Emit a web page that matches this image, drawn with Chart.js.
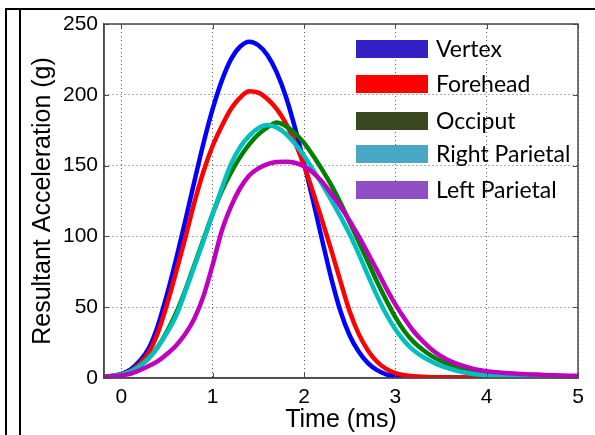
<!DOCTYPE html>
<html>
<head>
<meta charset="utf-8">
<script src="https://cdn.jsdelivr.net/npm/chart.js@4.4.0/dist/chart.umd.min.js"></script>
<style>
  html, body { margin: 0; padding: 0; background: #fff; }
  #wrap { position: relative; width: 595px; height: 435px; overflow: hidden; background: #fff; }
  #c { position: absolute; left: 0; top: 0; }
  .rule { position: absolute; background: #000; }
  .leg-row { position: absolute; left: 356px; height: 18px; }
  .leg-sw { position: absolute; left: 0; top: 0; width: 72px; height: 18px; box-sizing: border-box; }
  .leg-tx { position: absolute; left: 80px; top: -7px; font-family: Lato, "Open Sans", sans-serif; font-size: 23px; line-height: 30px; color: #000; white-space: nowrap; }
</style>
</head>
<body>
<div id="wrap">
  <canvas id="c" width="595" height="435"></canvas>
  <div class="rule" style="left:5px; top:8px; width:590px; height:2px;"></div>
  <div class="rule" style="left:5px; top:8px; width:2px; height:427px;"></div>
  <div class="rule" style="left:19px; top:8px; width:2px; height:427px;"></div>
  <div id="legend"></div>
</div>
<script>
// ---- data ----
const timeMs = [-0.2,-0.1,0.0,0.1,0.2,0.3,0.4,0.5,0.6,0.7,0.8,0.9,1.0,1.1,1.2,1.3,1.4,1.5,1.6,1.7,1.8,1.9,
  2.0,2.1,2.2,2.3,2.4,2.5,2.6,2.7,2.8,2.9,3.0,3.1,3.2,3.3,3.4,3.5,3.6,3.7,3.8,3.9,
  4.0,4.1,4.2,4.3,4.4,4.5,4.6,4.7,4.8,4.9,5.0];

const vertex = [1,1.5,3,6,12,21,37,59,84,111,139,166,190,210,225,234,237.5,235,228,216,199,177,
  152,125,97,70,47,30,18.5,10.5,5.5,2.5,1,0.5,0.3,0.3,0.3,0.3,0.3,0.3,0.3,0.3,
  0.3,0.3,0.3,0.3,0.3,0.3,0.3,0.3,0.3,0.3,0.3];

const forehead = [1,1.5,2.5,5,10,18,32,52,75,99,124,146,164,178,190,198,202.5,201.5,197,190,180,166.5,
  150,131,111,90,68,47,31,19.5,11.5,6.5,3.5,2,1.2,0.8,0.6,0.5,0.4,0.3,0.3,0.3,
  0.3,0.3,0.3,0.3,0.3,0.3,0.3,0.3,0.3,0.3,0.3];

const occiput = [1,1.5,2.5,4.5,8.5,14,22,33,46,62,80,98,116,132,145,156,165,172,177,180.5,178,173,
  166,157,147,136,123.5,110,96,82,68,55,43,33,25.5,20,15.5,12,9.3,7,5.2,3.8,
  2.8,2.1,1.6,1.2,1,0.8,0.7,0.6,0.5,0.5,0.4];

const rightParietal = [1,1.5,2.5,4.5,8.5,14,22,32,44,61,79,97,116,134,151,163,171,176.5,178.7,177,172.5,165.5,
  157,147,136.5,125.5,114,101.5,87.5,72.5,58,45,34.5,26,19.5,15,11.5,8.5,6.5,4.7,3.4,2.4,
  1.7,1.3,1,0.8,0.6,0.5,0.4,0.4,0.3,0.3,0.3];

const leftParietal = [1,1.2,1.8,3,5.5,8.5,12,17,23,31,42,58,80,104,121,134,143,148,151,152.5,152.7,152,
  149.5,145,138.5,130,121,111,100,88,76,63.5,52,42,33,26,20,15.5,12,9.5,7.5,5.8,
  4.7,4,3.5,3.1,2.8,2.5,2.3,2,1.8,1.6,1.5];

const seriesNames = ["Vertex","Forehead","Occiput","Right Parietal","Left Parietal"];
const seriesValues = [vertex, forehead, occiput, rightParietal, leftParietal];
const lineColors = ["#0000ff","#ff0000","#008000","#00bfbf","#bf00bf"];
const legendColors = ["#3520c6","#ff0000","#3a4820","#48a8c4","#904ec4"];

const xTickValues = [0,1,2,3,4,5];
const yTickValues = [0,50,100,150,200,250];
const xRange = [-0.19, 5];
const yRange = [0, 250];
const xTitle = "Time (ms)";
const yTitle = "Resultant Acceleration (g)";

// ---- chart ----
const datasets = seriesNames.map((name, i) => ({
  label: name,
  data: timeMs.map((t, k) => ({x: t, y: seriesValues[i][k]})),
  borderColor: lineColors[i],
  backgroundColor: lineColors[i],
  borderWidth: 4.5,
  pointRadius: 0,
  fill: false,
  tension: 0.4,
  cubicInterpolationMode: 'monotone',
  order: seriesNames.length - 1 - i
}));

const axisColor = "#4a4a4a";
const boxTicks = {
  id: 'boxTicks',
  afterDatasetsDraw(chart) {
    const {ctx, chartArea: a, scales} = chart;
    ctx.save();
    ctx.strokeStyle = axisColor;
    ctx.lineWidth = 1.5;
    ctx.strokeRect(a.left, a.top, a.right - a.left, a.bottom - a.top);
    ctx.lineWidth = 1;
    const L = 5;
    ctx.beginPath();
    xTickValues.forEach(v => {
      const px = Math.round(scales.x.getPixelForValue(v)) + 0.5;
      ctx.moveTo(px, a.bottom); ctx.lineTo(px, a.bottom - L);
      ctx.moveTo(px, a.top); ctx.lineTo(px, a.top + L);
    });
    yTickValues.forEach(v => {
      const py = Math.round(scales.y.getPixelForValue(v)) + 0.5;
      ctx.moveTo(a.left, py); ctx.lineTo(a.left + L, py);
      ctx.moveTo(a.right, py); ctx.lineTo(a.right - L, py);
    });
    ctx.stroke();
    ctx.restore();
  }
};

const tickFont = {family: "'Liberation Sans', Arial, sans-serif", size: 21};
const titleFont = {family: "'Liberation Sans', Arial, sans-serif", size: 25};

new Chart(document.getElementById('c'), {
  type: 'line',
  data: {datasets},
  plugins: [boxTicks],
  options: {
    responsive: false,
    animation: false,
    events: [],
    layout: {padding: {left: 0, right: 17, top: 24, bottom: 0}},
    plugins: {legend: {display: false}, tooltip: {enabled: false}},
    scales: {
      x: {
        type: 'linear',
        min: xRange[0], max: xRange[1],
        afterBuildTicks: s => { s.ticks = xTickValues.map(v => ({value: v})); },
        afterFit: s => { s.height = 57; },
        grid: {color: '#5a5a5a', lineWidth: 1, drawTicks: false},
        border: {display: true, color: axisColor, width: 1.5, dash: [1,3]},
        ticks: {color: '#000', font: tickFont, padding: 7, maxRotation: 0},
        title: {display: true, text: xTitle, color: '#000', font: titleFont, padding: {top: 0, bottom: 0}}
      },
      y: {
        type: 'linear',
        min: yRange[0], max: yRange[1],
        afterBuildTicks: s => { s.ticks = yTickValues.map(v => ({value: v})); },
        afterFit: s => { s.width = 104; },
        grid: {color: '#5a5a5a', lineWidth: 1, drawTicks: false},
        border: {display: true, color: axisColor, width: 1.5, dash: [1,3]},
        ticks: {color: '#000', font: tickFont, padding: 6},
        title: {display: true, text: yTitle, color: '#000', font: titleFont, padding: {top: 28, bottom: 0}}
      }
    }
  }
});

// ---- legend (HTML, built from the series arrays) ----
const legendEl = document.getElementById('legend');
const legendTops = [40, 75, 111.5, 145, 180.5];
seriesNames.forEach((name, i) => {
  const row = document.createElement('div');
  row.className = 'leg-row';
  row.style.top = legendTops[i] + 'px';
  const sw = document.createElement('div');
  sw.className = 'leg-sw';
  sw.style.background = legendColors[i];
  const tx = document.createElement('div');
  tx.className = 'leg-tx';
  tx.textContent = name;
  row.appendChild(sw); row.appendChild(tx);
  legendEl.appendChild(row);
});
</script>
</body>
</html>
